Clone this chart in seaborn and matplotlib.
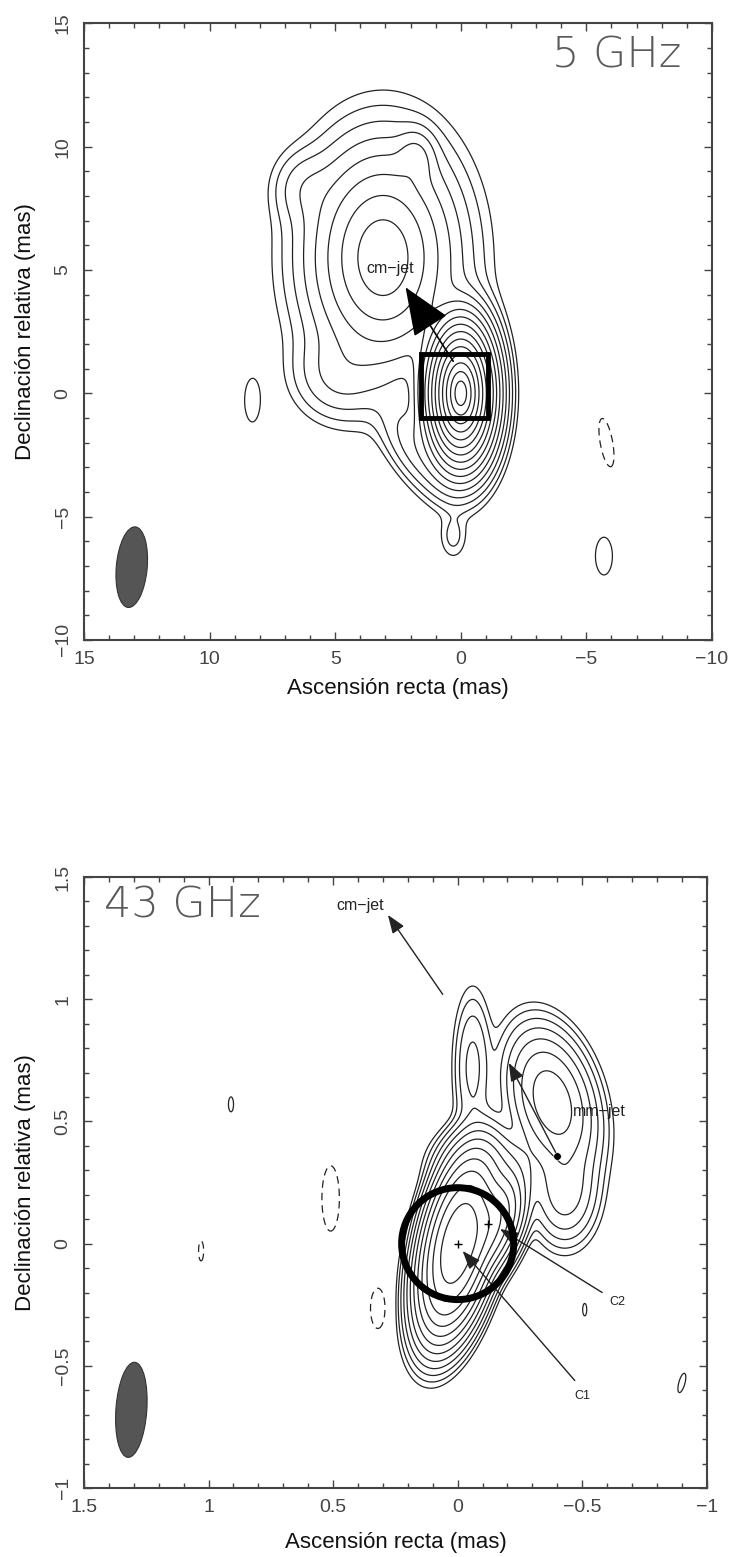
import numpy as np
import matplotlib
matplotlib.use("Agg")
import matplotlib.pyplot as plt
import seaborn as sns
import pandas as pd
from matplotlib.patches import Ellipse, Rectangle
from matplotlib.ticker import MultipleLocator, FixedLocator, FixedFormatter

sns.set_theme(style="ticks")
plt.rcParams["font.family"] = ["Liberation Sans", "DejaVu Sans"]

# ---------------- 5 GHz brightness model (mas) ----------------
c5_ra   = [0.0, 0.3, 3.1, 1.8, 4.8, 6.2, 1.7, 8.3, -5.8, -5.7]
c5_dec  = [0.0, -5.8, 5.5, 9.5, 0.8, 8.3, -2.2, -0.3, -2.0, -6.6]
c5_peak = [65536, 2.5, 255, 15, 8, 5, 12, 1.5, -1.5, 1.5]
c5_sx   = [0.31, 0.47, 1.3, 0.6, 1.4, 1.0, 0.8, 0.47, 0.39, 0.53]
c5_sy   = [0.67, 0.8, 2.0, 0.9, 1.4, 1.2, 1.7, 1.33, 1.56, 1.2]
c5_pa   = [0, 0, 0, 0, 0, 0, 32, 0, 10, 0]
c5_pow  = [1.2, 2, 1.4, 2, 2, 2, 2, 2, 2, 2]
c5_nlev = 17

# ---------------- 43 GHz brightness model (mas) ----------------
c43_ra   = [0.0, -0.13, -0.38, -0.06, -0.12, -0.43, 0.91, 0.51, 1.03, 0.32, -0.51, -0.90]
c43_dec  = [0.0, 0.08, 0.58, 0.72, 0.32, 0.22, 0.57, 0.185, -0.03, -0.265, -0.27, -0.57]
c43_peak = [3800, 600, 100, 10, 40, 25, 1.3, -1.5, -1.3, -1.5, 1.3, 1.3]
c43_sx   = [0.077, 0.07, 0.107, 0.055, 0.13, 0.09, 0.02, 0.055, 0.02, 0.047, 0.016, 0.024]
c43_sy   = [0.21, 0.14, 0.195, 0.22, 0.10, 0.15, 0.06, 0.21, 0.08, 0.13, 0.05, 0.08]
c43_pa   = [-12, -20, 15, 0, 0, 0, 0, 0, 0, 0, 0, -15]
c43_pow  = [2, 2, 2, 2, 2, 2, 2, 2, 2, 2, 2, 2]
c43_nlev = 13

# restoring beams: centre ra, dec, minor, major, angle
beam5  = (13.1, -7.05, 1.23, 3.28, 5)
beam43 = (1.31, -0.68, 0.124, 0.39, 4)

# tick marks
ticks5       = [15, 10, 5, 0, -5, -10]
ticklabels5  = ["15", "10", "5", "0", "\u22125", "\u221210"]
ticks43      = [1.5, 1, 0.5, 0, -0.5, -1]
ticklabels43 = ["1.5", "1", "0.5", "0", "\u22120.5", "\u22121"]

# fitted components at 43 GHz and mm-jet reference point
comp_names = ["C1", "C2"]
comp_ra    = [0.0, -0.12]
comp_dec   = [0.0, 0.08]
mmjet_ra, mmjet_dec = -0.40, 0.36


def brightness(ra, dec, xs, ys, pk, sx, sy, pa, pw):
    img = np.zeros_like(ra)
    for x0, y0, p, a, b, t, e in zip(xs, ys, pk, sx, sy, pa, pw):
        th = np.deg2rad(t)
        dx, dy = ra - x0, dec - y0
        u = dx * np.cos(th) - dy * np.sin(th)
        v = dx * np.sin(th) + dy * np.cos(th)
        d = np.sqrt((u / a) ** 2 + (v / b) ** 2)
        img += p * np.exp(-d ** e)
    return img


INK = "#222222"
AX = "#444444"


def style_axes(ax, lim, ticks, labels, minor):
    ax.set_xlim(lim[0], lim[1])
    ax.set_ylim(lim[1], lim[0])
    ax.xaxis.set_major_locator(FixedLocator(ticks))
    ax.xaxis.set_major_formatter(FixedFormatter(labels))
    ax.yaxis.set_major_locator(FixedLocator(ticks))
    ax.yaxis.set_major_formatter(FixedFormatter(labels))
    ax.xaxis.set_minor_locator(MultipleLocator(minor))
    ax.yaxis.set_minor_locator(MultipleLocator(minor))
    ax.tick_params(which="both", direction="in", top=True, right=True,
                   color=AX, width=1.0, labelcolor=AX)
    ax.tick_params(which="major", length=6, labelsize=14)
    ax.tick_params(which="minor", length=3.5)
    ax.tick_params(axis="x", pad=8)
    ax.tick_params(axis="y", pad=9)
    for lab in ax.get_yticklabels():
        lab.set_rotation(90)
        lab.set_va("center")
    for s in ax.spines.values():
        s.set_color(AX)
        s.set_linewidth(1.5)
    ax.set_facecolor("white")
    ax.set_xlabel("Ascensión recta (mas)", fontsize=16, color="#111111")
    ax.set_ylabel("Declinación relativa (mas)", fontsize=16, color="#111111")
    ax.yaxis.set_label_coords(-0.077, 0.5)


fig = plt.figure(figsize=(7.37, 15.57), dpi=100)
fig.patch.set_facecolor("white")

# ---------------- top panel : 5 GHz ----------------
ax1 = fig.add_axes([0.114, 0.589, 0.852, 0.396])
g = np.linspace(-10, 15, 700)
RA, DEC = np.meshgrid(g, g)
img5 = brightness(RA, DEC, c5_ra, c5_dec, c5_peak, c5_sx, c5_sy, c5_pa, c5_pow)
lev5 = [-1.0] + [2.0 ** k for k in range(c5_nlev)]
ax1.contour(RA, DEC, img5, levels=lev5, colors=INK, linewidths=0.9,
            negative_linestyles=(0, (6, 4)))
style_axes(ax1, (15, -10), ticks5, ticklabels5, 1)
ax1.xaxis.set_label_coords(0.5, -0.062)

bx, by, bw, bh, ba = beam5
ax1.add_patch(Ellipse((bx, by), bw, bh, angle=ba, facecolor="#555555",
                      edgecolor="#333333", lw=0.8, zorder=3))
ax1.add_patch(Rectangle((-1.1, -1.0), 2.7, 2.6, fill=False, lw=3.5,
                        ec="black", zorder=4))
ax1.annotate("", xy=(2.2, 4.3), xytext=(0.3, 1.3),
             arrowprops=dict(arrowstyle="-|>,head_length=1.1,head_width=0.45",
                             mutation_scale=28, lw=1.2, color="black",
                             shrinkA=0, shrinkB=0), zorder=5)
ax1.text(2.8, 5.05, "cm\u2212jet", fontsize=11.5, color=INK, ha="center", va="center")
ax1.text(-8.8, 13.7, "5 GHz", fontsize=31, color="#5a5a5a", ha="right",
         va="center", family=["DejaVu Sans"], fontweight="light")

# ---------------- bottom panel : 43 GHz ----------------
ax2 = fig.add_axes([0.114, 0.0443, 0.845, 0.3924])
g = np.linspace(-1, 1.5, 700)
RA, DEC = np.meshgrid(g, g)
img43 = brightness(RA, DEC, c43_ra, c43_dec, c43_peak, c43_sx, c43_sy, c43_pa, c43_pow)
lev43 = [-1.0] + [2.0 ** k for k in range(c43_nlev)]
ax2.contour(RA, DEC, img43, levels=lev43, colors=INK, linewidths=0.9,
            negative_linestyles=(0, (6, 4)))
style_axes(ax2, (1.5, -1.0), ticks43, ticklabels43, 0.1)
ax2.xaxis.set_label_coords(0.5, -0.072)

bx, by, bw, bh, ba = beam43
ax2.add_patch(Ellipse((bx, by), bw, bh, angle=ba, facecolor="#555555",
                      edgecolor="#333333", lw=0.8, zorder=3))
ax2.add_patch(Ellipse((0.0, 0.0), 0.45, 0.458, fill=False, lw=5,
                      ec="black", zorder=4))

comp_df = pd.DataFrame({"ra": comp_ra, "dec": comp_dec, "name": comp_names})
sns.scatterplot(data=comp_df, x="ra", y="dec", marker="+", s=40,
                color="black", linewidth=1.0, ax=ax2, zorder=6, legend=False)
sns.scatterplot(x=[mmjet_ra], y=[mmjet_dec], s=30, color="black",
                ax=ax2, zorder=6, legend=False)
ax2.set_xlabel("Ascensión recta (mas)", fontsize=16, color="#111111")
ax2.set_ylabel("Declinación relativa (mas)", fontsize=16, color="#111111")

small = dict(arrowstyle="-|>,head_length=0.8,head_width=0.3",
             mutation_scale=14, lw=1.0, color=INK, shrinkA=0, shrinkB=0)
ax2.annotate("", xy=(0.28, 1.345), xytext=(0.06, 1.02), arrowprops=small)
ax2.annotate("", xy=(-0.205, 0.74), xytext=(mmjet_ra, mmjet_dec), arrowprops=small)
ax2.annotate("", xy=(-0.02, -0.03), xytext=(-0.47, -0.56), arrowprops=small)
ax2.annotate("", xy=(-0.17, 0.06), xytext=(-0.58, -0.20), arrowprops=small)

ax2.text(0.39, 1.385, "cm\u2212jet", fontsize=11.5, color=INK, ha="center", va="center")
ax2.text(-0.57, 0.54, "mm\u2212jet", fontsize=11.5, color=INK, ha="center", va="center")
ax2.text(-0.50, -0.625, comp_names[0], fontsize=9, color=INK, ha="center", va="center")
ax2.text(-0.64, -0.24, comp_names[1], fontsize=9, color=INK, ha="center", va="center")
ax2.text(1.42, 1.385, "43 GHz", fontsize=31, color="#5a5a5a", ha="left",
         va="center", family=["DejaVu Sans"], fontweight="light")

fig.savefig("out.png", dpi=100, facecolor="white")
